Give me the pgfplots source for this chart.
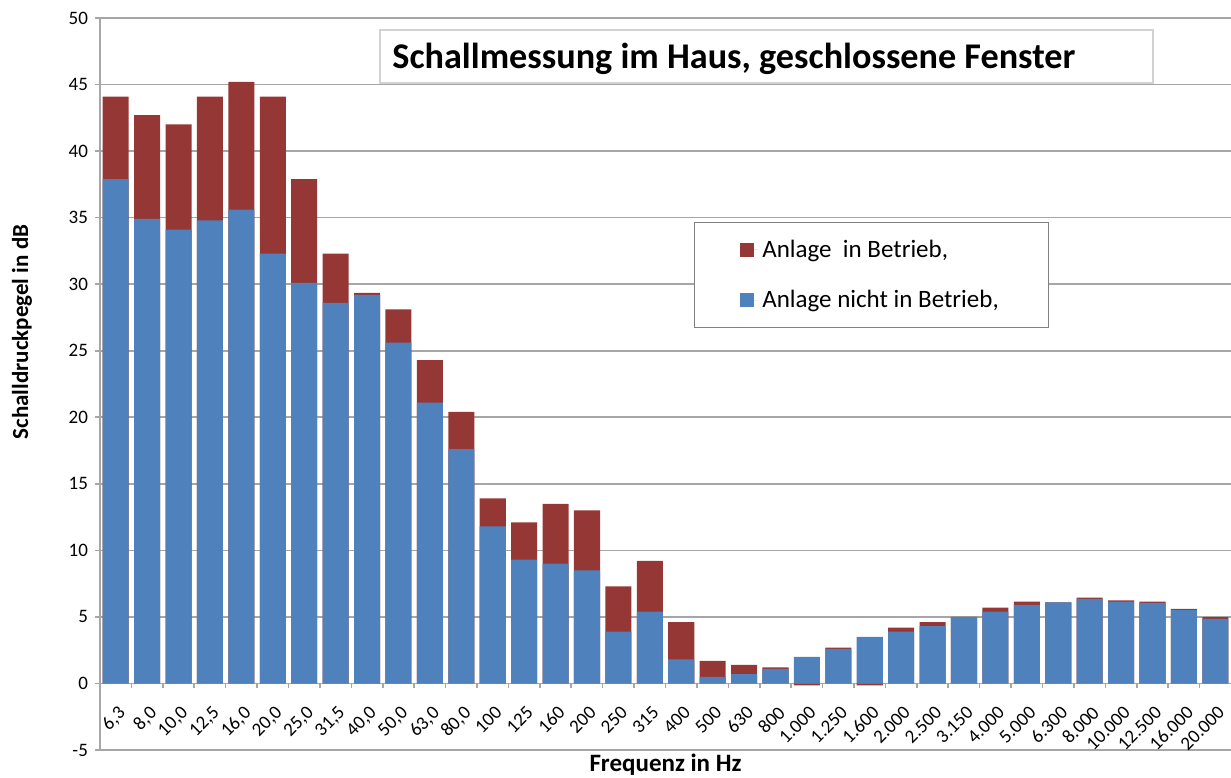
\documentclass[border=0pt]{standalone}
\usepackage{fontspec}
\setmainfont{Carlito}
\usepackage{pgfplots}
\pgfplotsset{compat=1.18}
\definecolor{blueBar}{HTML}{4F81BD}
\definecolor{redBar}{HTML}{953735}
\definecolor{gridGray}{HTML}{A6A6A6}
\begin{document}
\begin{tikzpicture}
\begin{axis}[
    name=ax,
    scale only axis,
    width=565.5pt, height=366pt,
    xmin=-0.5, xmax=35.5,
    ymin=-5, ymax=50,
    ytick={-5,0,...,50},
    xtick={0,...,35},
    xticklabels={{6,3},{8,0},{10,0},{12,5},{16,0},{20,0},{25,0},{31,5},{40,0},{50,0},{63,0},{80,0},
        100,125,160,200,250,315,400,500,630,800,1.000,1.250,1.600,2.000,2.500,3.150,4.000,5.000,
        6.300,8.000,10.000,12.500,16.000,20.000},
    minor x tick num=1,
    axis x line=middle,
    axis y line=left,
    axis line style={gridGray, line width=0.8pt, -},
    tick align=outside,
    major tick length=2.5pt,
    minor tick length=2.5pt,
    major x tick style={draw=none},
    minor x tick style={gridGray, line width=0.8pt},
    y tick style={gridGray, line width=0.8pt},
    hide obscured x ticks=false,
    hide obscured y ticks=false,
    ymajorgrids,
    grid style={gridGray, line width=0.8pt},
    /pgf/number format/assume math mode=true,
    tick label style={font=\fontsize{9.5}{11}\selectfont},
    xticklabel style={rotate=45, anchor=north east, xshift=1pt},
    xticklabel shift=4pt,
    xlabel={\textbf{Frequenz in Hz}},
    ylabel={\textbf{Schalldruckpegel in dB}},
    xlabel style={at={(axis description cs:0.5,0)}, anchor=north, inner sep=2pt, font=\fontsize{12.5}{14}\selectfont},
    ylabel style={at={(axis description cs:-0.069,0.571)}, anchor=center, font=\fontsize{11.5}{13}\selectfont},
    ybar, bar width=0.83, bar shift=0pt,
    clip=false,
    legend cell align=left,
    legend image code/.code={\fill[#1] (0pt,-3.5pt) rectangle (7pt,3.5pt); \path (0pt,0pt) -- (9pt,0pt);},
    legend style={at={(rel axis cs:0.525,0.721)}, anchor=north west,
        draw=gray, line width=0.6pt, inner xsep=23pt, inner ysep=6.5pt, row sep=11pt,
        font=\fontsize{12.5}{14}\selectfont},
]
\addplot[fill=redBar, draw=none] coordinates {
(0,44.1) (1,42.7) (2,42.0) (3,44.1) (4,45.2) (5,44.1) (6,37.9) (7,32.3) (8,29.35) (9,28.1)
(10,24.3) (11,20.4) (12,13.9) (13,12.1) (14,13.5) (15,13.0) (16,7.3) (17,9.2) (18,4.6) (19,1.7)
(20,1.4) (21,1.2) (22,-0.15) (23,2.7) (24,-0.15) (25,4.2) (26,4.6) (27,5.0) (28,5.7) (29,6.15)
(30,6.1) (31,6.45) (32,6.25) (33,6.15) (34,5.6) (35,4.98)};
\addlegendentry{Anlage\ \ in Betrieb,}
\addplot[fill=blueBar, draw=none] coordinates {
(0,37.9) (1,34.9) (2,34.1) (3,34.8) (4,35.6) (5,32.3) (6,30.1) (7,28.6) (8,29.2) (9,25.6)
(10,21.1) (11,17.6) (12,11.8) (13,9.3) (14,9.0) (15,8.5) (16,3.9) (17,5.4) (18,1.8) (19,0.5)
(20,0.7) (21,1.1) (22,2.0) (23,2.6) (24,3.5) (25,3.9) (26,4.3) (27,5.0) (28,5.4) (29,5.9)
(30,6.1) (31,6.35) (32,6.15) (33,6.05) (34,5.5) (35,4.85)};
\addlegendentry{Anlage nicht in Betrieb,}
\draw[gray!35, line width=1pt, fill=white] (rel axis cs:0.2476,0.9836) rectangle (rel axis cs:0.931,0.9112);
\node[anchor=west, inner sep=0pt, font=\fontsize{18.1}{20}\selectfont\bfseries]
      at (rel axis cs:0.2582,0.9435) {Schallmessung im Haus, geschlossene Fenster};
\end{axis}
\pgfresetboundingbox
\path ([xshift=-50pt,yshift=-14pt]ax.south west) rectangle ([yshift=9pt]ax.north east);
\end{tikzpicture}
\end{document}
